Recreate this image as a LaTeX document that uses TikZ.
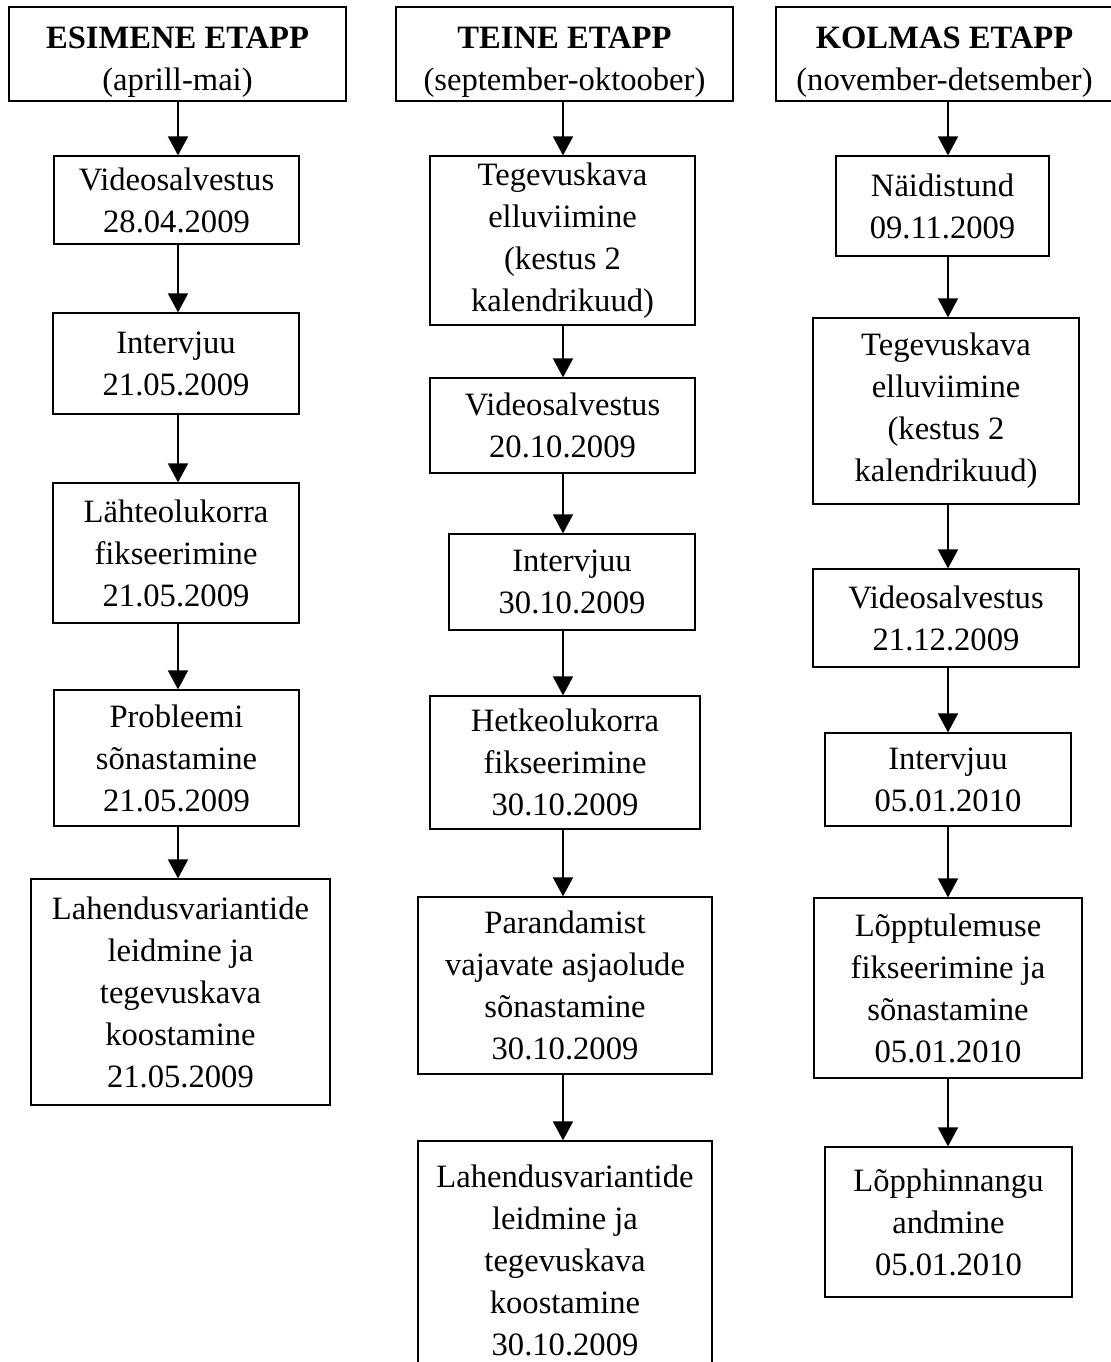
\documentclass[tikz,border=0pt]{standalone}
\usepackage{fontspec}
\setmainfont{Liberation Serif}
\usetikzlibrary{arrows.meta}
\tikzset{
  stage/.style={draw, line width=0.6pt, align=center, inner sep=0pt,
    minimum width=168.5pt, minimum height=47pt},
  stepbox/.style={draw, line width=0.6pt, align=center, inner sep=0pt},
  arr/.style={-{Triangle[length=9.5pt,width=10pt]}, line width=0.8pt}
}
\begin{document}
\begin{tikzpicture}[x=0.5pt, y=-0.5pt, font=\fontsize{16.3}{21}\selectfont]
    \useasboundingbox (0,0) rectangle (1111,1362);
    \coordinate (ax1) at (178,0);
    \coordinate (ax2) at (563,0);
    \coordinate (ax3) at (948,0);

    % esimene etapp
    \node[stage] (h1) at (177.5,54) {\rule{0pt}{19pt}\textbf{ESIMENE ETAPP}\\(aprill-mai)};
    \node[stepbox, minimum width=122.5pt, minimum height=44pt] (v1) at (176.5,200) {Videosalvestus\\28.04.2009};
    \node[stepbox, minimum width=123pt, minimum height=50.5pt] (i1) at (176,363.5) {Intervjuu\\21.05.2009};
    \node[stepbox, minimum width=123pt, minimum height=70pt] (l1) at (176,553) {Lähteolukorra\\fikseerimine\\21.05.2009};
    \node[stepbox, minimum width=122.5pt, minimum height=68pt] (p1) at (176.5,758) {Probleemi\\sõnastamine\\21.05.2009};
    \node[stepbox, minimum width=149.5pt, minimum height=113pt] (s1) at (180.5,992) {Lahendusvariantide\\leidmine ja\\tegevuskava\\koostamine\\21.05.2009};

    % teine etapp
    \node[stage] (h2) at (564.5,54) {\rule{0pt}{19pt}\textbf{TEINE ETAPP}\\(september-oktoober)};
    \node[stepbox, minimum width=132.5pt, minimum height=84.5pt] (t2) at (562.5,240.5) {Tegevuskava\\elluviimine\\(kestus 2\\kalendrikuud)};
    \node[stepbox, minimum width=132.5pt, minimum height=47.5pt] (v2) at (562.5,425.5) {Videosalvestus\\20.10.2009};
    \node[stepbox, minimum width=123pt, minimum height=48pt] (i2) at (572,582) {Intervjuu\\30.10.2009};
    \node[stepbox, minimum width=135pt, minimum height=66.5pt] (k2) at (565,762.5) {Hetkeolukorra\\fikseerimine\\30.10.2009};
    \node[stepbox, minimum width=147pt, minimum height=88.5pt] (r2) at (565,985.5) {Parandamist\\vajavate asjaolude\\sõnastamine\\30.10.2009};
    \node[stepbox, minimum width=147pt, minimum height=119.5pt] (s2) at (565,1260.5) {Lahendusvariantide\\leidmine ja\\tegevuskava\\koostamine\\30.10.2009};

    % kolmas etapp
    \node[stage] (h3) at (944.5,54) {\rule{0pt}{19pt}\textbf{KOLMAS ETAPP}\\(november-detsember)};
    \node[stepbox, minimum width=106.5pt, minimum height=50pt] (n3) at (942.5,206) {Näidistund\\09.11.2009};
    \node[stepbox, minimum width=133pt, minimum height=93pt] (t3) at (946,411) {Tegevuskava\\elluviimine\\(kestus 2\\kalendrikuud)};
    \node[stepbox, minimum width=133pt, minimum height=49pt] (v3) at (946,618) {Videosalvestus\\21.12.2009};
    \node[stepbox, minimum width=123pt, minimum height=46.5pt] (i3) at (948,779.5) {Intervjuu\\05.01.2010};
    \node[stepbox, minimum width=134pt, minimum height=90pt] (f3) at (948,988) {Lõpptulemuse\\fikseerimine ja\\sõnastamine\\05.01.2010};
    \node[stepbox, minimum width=123.5pt, minimum height=75pt] (e3) at (948.5,1222) {Lõpphinnangu\\andmine\\05.01.2010};

    \foreach \a/\b in {h1/v1, v1/i1, i1/l1, l1/p1, p1/s1}
        \draw[arr] (\a.south -| ax1) -- (\b.north -| ax1);
    \foreach \a/\b in {h2/t2, t2/v2, v2/i2, i2/k2, k2/r2, r2/s2}
        \draw[arr] (\a.south -| ax2) -- (\b.north -| ax2);
    \foreach \a/\b in {h3/n3, n3/t3, t3/v3, v3/i3, i3/f3, f3/e3}
        \draw[arr] (\a.south -| ax3) -- (\b.north -| ax3);
\end{tikzpicture}
\end{document}
